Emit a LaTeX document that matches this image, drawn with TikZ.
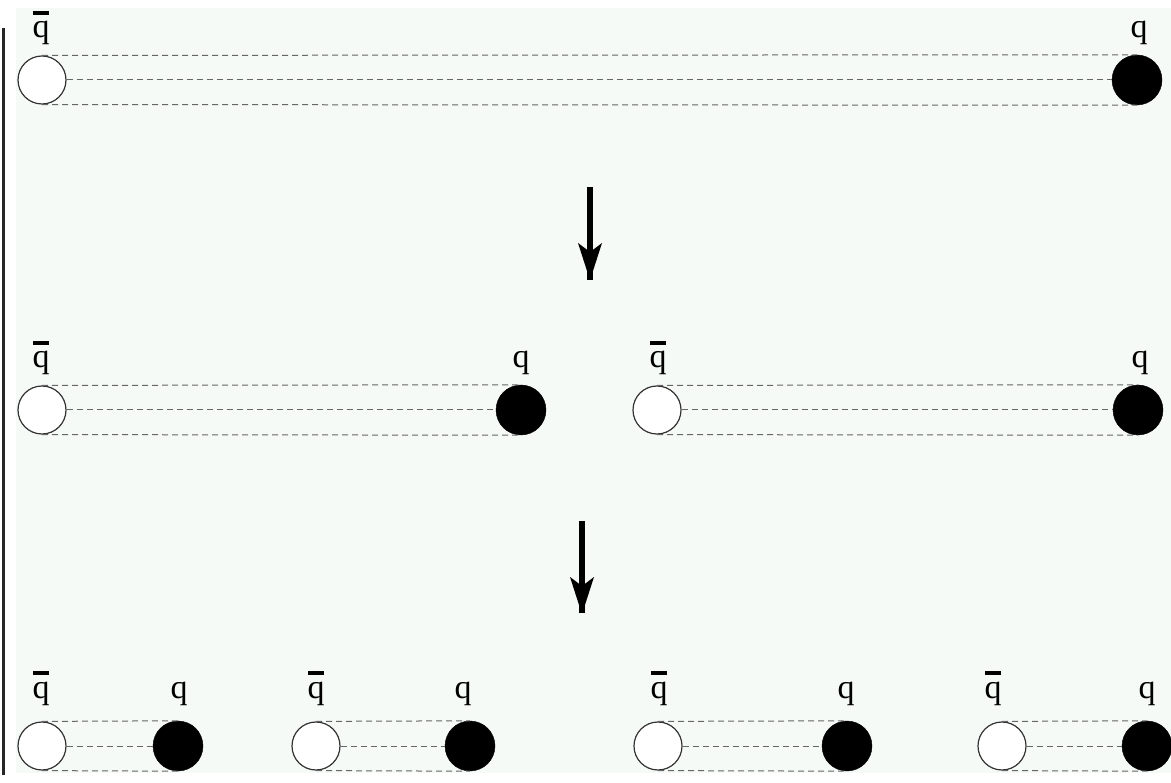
\documentclass[tikz,border=0pt]{standalone}
\usepackage{fontspec}
\setmainfont{Liberation Serif}
\newcommand\qbarlbl{\ooalign{q\cr\hidewidth\rule[23pt]{16pt}{4pt}\hidewidth\cr}}
\begin{document}
\begin{tikzpicture}[x=1pt,y=-1pt,
  quark/.style={circle,fill=black,draw=black,minimum size=50pt,inner sep=0pt},
  antiquark/.style={circle,fill=white,draw=black!80,line width=1.2pt,minimum size=48pt,inner sep=0pt},
  lbl/.style={anchor=base,inner sep=0pt,font=\fontsize{34}{34}\selectfont},
  flux/.style={draw=black!60,line width=1pt,dash pattern=on 6pt off 4pt},
  shaft/.style={line width=6pt},
]
\useasboundingbox (0,0) rectangle (1171,783);
\fill[white] (0,0) rectangle (1171,783);
\fill[fill={rgb,255:red,245;green,250;blue,247}] (16,8) rectangle (1171,773);
\draw[line width=3pt,black!85] (3,28) -- (3,775);

% row 1
\node[antiquark] (a1) at (42,80) {};
\node[quark] (b1) at (1137,80) {};
\node[lbl] (la1) at (41,38) {\qbarlbl};
\node[lbl] (lb1) at (1139,38) {q};
\draw[flux] (a1.north) -- (b1.north);
\draw[flux] (a1.east) -- (b1.west);
\draw[flux] (a1.south) -- (b1.south);

% arrow 1
\coordinate (r1s) at (590,187);
\coordinate (r1e) at (590,280);
\draw[shaft] (r1s) -- (r1e);
\fill (578,243) -- (590,252) -- (602,243) -- (592,274) -- (588,274) -- cycle;

% row 2
\node[antiquark] (a2) at (42,410) {};
\node[quark] (b2) at (521,410) {};
\node[lbl] (la2) at (41,368) {\qbarlbl};
\node[lbl] (lb2) at (521,368) {q};
\draw[flux] (a2.north) -- (b2.north);
\draw[flux] (a2.east) -- (b2.west);
\draw[flux] (a2.south) -- (b2.south);

\node[antiquark] (a3) at (657,410) {};
\node[quark] (b3) at (1138,410) {};
\node[lbl] (la3) at (658,368) {\qbarlbl};
\node[lbl] (lb3) at (1140,368) {q};
\draw[flux] (a3.north) -- (b3.north);
\draw[flux] (a3.east) -- (b3.west);
\draw[flux] (a3.south) -- (b3.south);

% arrow 2
\coordinate (r2s) at (582,521);
\coordinate (r2e) at (582,613);
\draw[shaft] (r2s) -- (r2e);
\fill (570,577) -- (582,586) -- (594,577) -- (584,608) -- (580,608) -- cycle;

% row 3
\node[antiquark] (a4) at (42,746) {};
\node[quark] (b4) at (178,746) {};
\node[lbl] (la4) at (41,698) {\qbarlbl};
\node[lbl] (lb4) at (179,698) {q};
\draw[flux] (a4.north) -- (b4.north);
\draw[flux] (a4.east) -- (b4.west);
\draw[flux] (a4.south) -- (b4.south);

\node[antiquark] (a5) at (316,746) {};
\node[quark] (b5) at (470,746) {};
\node[lbl] (la5) at (316,698) {\qbarlbl};
\node[lbl] (lb5) at (463,698) {q};
\draw[flux] (a5.north) -- (b5.north);
\draw[flux] (a5.east) -- (b5.west);
\draw[flux] (a5.south) -- (b5.south);

\node[antiquark] (a6) at (658,746) {};
\node[quark] (b6) at (847,746) {};
\node[lbl] (la6) at (659,698) {\qbarlbl};
\node[lbl] (lb6) at (846,698) {q};
\draw[flux] (a6.north) -- (b6.north);
\draw[flux] (a6.east) -- (b6.west);
\draw[flux] (a6.south) -- (b6.south);

\node[antiquark] (a7) at (1002,746) {};
\node[quark] (b7) at (1147,746) {};
\node[lbl] (la7) at (993,698) {\qbarlbl};
\node[lbl] (lb7) at (1147,698) {q};
\draw[flux] (a7.north) -- (b7.north);
\draw[flux] (a7.east) -- (b7.west);
\draw[flux] (a7.south) -- (b7.south);
\end{tikzpicture}
\end{document}
